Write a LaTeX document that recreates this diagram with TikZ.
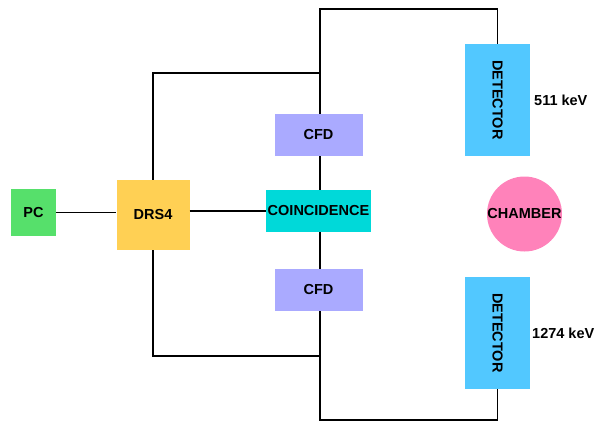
\documentclass[tikz,border=0pt]{standalone}
\usepackage{fontspec}
\setmainfont{Liberation Sans}
\begin{document}
\begin{tikzpicture}[x=1pt,y=-1pt,
  blk/.style={draw=none,inner sep=0pt,font=\fontsize{14.5}{17}\selectfont\bfseries},
  wire/.style={line width=1.9pt,black}]
\useasboundingbox (0,0) rectangle (595,445);
\definecolor{pcg}{HTML}{56E06B}
\definecolor{drsy}{HTML}{FFD054}
\definecolor{cfdp}{HTML}{AAAAFF}
\definecolor{coic}{HTML}{00D9D9}
\definecolor{detb}{HTML}{52C8FF}
\definecolor{chp}{HTML}{FF82BA}
\node[blk,fill=pcg,minimum width=45,minimum height=47] (pc) at (33.5,212.5) {PC};
\node[blk,fill=drsy,minimum width=73,minimum height=70] (drs) at (153,215) {DRS4};
\node[blk,fill=cfdp,minimum width=88,minimum height=42] (cfd1) at (318.5,135) {CFD};
\node[blk,fill=coic,minimum width=105,minimum height=42] (coin) at (318.5,211) {COINCIDENCE};
\node[blk,fill=cfdp,minimum width=88,minimum height=42] (cfd2) at (318.5,290) {CFD};
\node[blk,fill=detb,minimum width=112,minimum height=65,rotate=-90] (det1) at (497.5,100) {DETECTOR};
\node[blk,fill=detb,minimum width=112,minimum height=65,rotate=-90] (det2) at (497.5,333) {DETECTOR};
\node[blk,fill=chp,circle,minimum size=75] (ch) at (524.5,214) {CHAMBER};
\node[blk,anchor=west] (l1) at (534,100) {511 keV};
\node[blk,anchor=west] (l2) at (532,333) {1274 keV};
\coordinate (t1) at (153,73);
\coordinate (t2) at (320,73);
\coordinate (t3) at (320,9);
\coordinate (b1) at (153,356);
\coordinate (b2) at (320,356);
\coordinate (b3) at (320,420);
\draw[wire] (pc.east) -- (drs.west |- pc.east);
\draw[wire] (drs.east |- coin.west) -- (coin.west);
\draw[wire] (drs.north) -- (t1) -- (t2);
\draw[wire] (det1.west) -- (det1.west |- t3) -- (t3) -- (cfd1.north -| t3);
\draw[wire] (cfd1.south -| t3) -- (coin.north -| t3);
\draw[wire] (coin.south -| t3) -- (cfd2.north -| t3);
\draw[wire] (drs.south) -- (b1) -- (b2);
\draw[wire] (det2.east) -- (det2.east |- b3) -- (b3) -- (cfd2.south -| b3);
\end{tikzpicture}
\end{document}
